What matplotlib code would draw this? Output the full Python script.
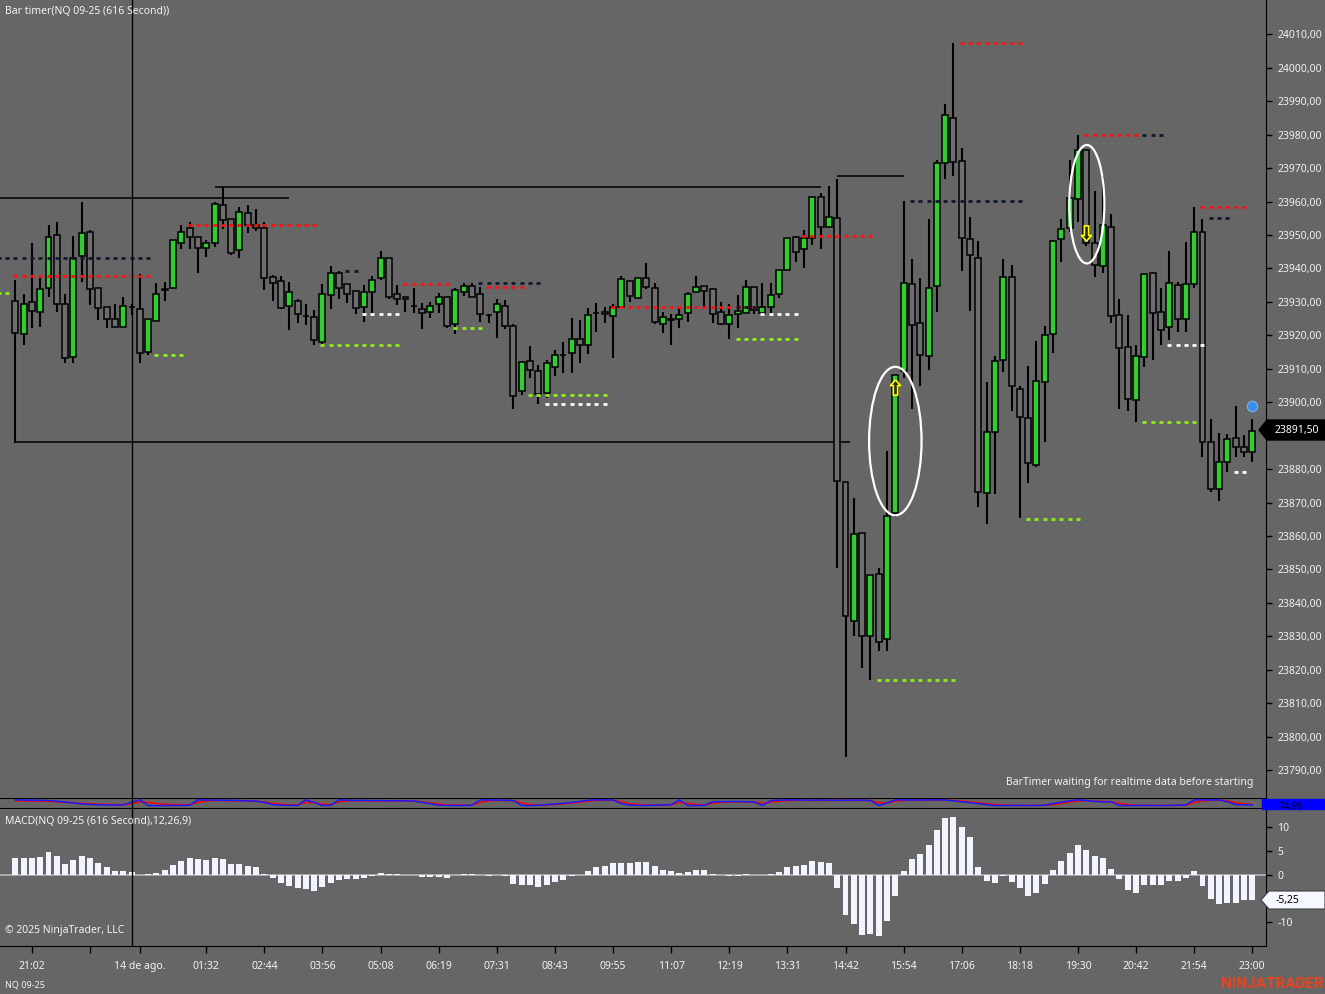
import matplotlib
matplotlib.use("Agg")
import matplotlib.pyplot as plt
import numpy as np
from matplotlib.patches import Ellipse, Polygon
from matplotlib.path import Path

plt.rcParams['font.family'] = ['Noto Sans', 'DejaVu Sans']

# ---- OHLC of the 616-second NQ bars ----
opens = [23930.25, 23920.5, 23930, 23927, 23934.25, 23950, 23929.5, 23913.5, 23943.75, 23950.75,
         23934.25, 23928.5, 23924.75, 23922.5, 23928.5, 23928, 23915, 23924.25, 23933.5, 23934.25,
         23947.75, 23952, 23949.5, 23946, 23947.5, 23959, 23954.75, 23945.5, 23956.5, 23953,
         23952, 23937.5, 23936.25, 23928.75, 23930.25, 23925.75, 23925.5, 23918, 23932, 23938.75,
         23935.25, 23933.25, 23928.5, 23933, 23937.25, 23943.25, 23932.25, 23931.5, 23928.75, 23928,
         23927, 23929.5, 23931.5, 23923.5, 23933, 23934.75, 23932.25, 23926, 23927, 23928.75,
         23922.75, 23903.25, 23912.25, 23909.25, 23902.75, 23910.5, 23914.25, 23914.75, 23919, 23917.25,
         23926.75, 23927, 23925.75, 23928.5, 23936.25, 23931.25, 23937, 23934.25, 23923.5, 23925,
         23924.75, 23926.75, 23933, 23934.75, 23933.75, 23927, 23923.5, 23926.25, 23926.75, 23934.5,
         23926.75, 23928.5, 23932.5, 23939.5, 23949.25, 23945.75, 23949.25, 23961.5, 23952.25, 23955,
         23876.25, 23834.75, 23861, 23830, 23848.75, 23829.25, 23866.75, 23909.25, 23935.25, 23923.75,
         23913.75, 23934.75, 23971.5, 23985, 23972, 23948.75, 23943.25, 23872.75, 23891, 23912.5,
         23937.5, 23904, 23895.25, 23881.25, 23906, 23920.5, 23948.75, 23952, 23960.75, 23975.5,
         23947.75, 23940.75, 23952.5, 23926, 23916.5, 23900.75, 23913.5, 23938.5, 23927, 23922.5,
         23935, 23924.75, 23935.25, 23951, 23888, 23874, 23882, 23889.25, 23886.5, 23885.25]
highs = [23936.5, 23932.5, 23947.5, 23937, 23953, 23954, 23932.5, 23949.75, 23959.75, 23951.5,
         23934.25, 23928.5, 23929.5, 23931.5, 23929.25, 23938.25, 23925, 23935.5, 23936, 23948.5,
         23953, 23953.75, 23949.5, 23948.5, 23959.75, 23964.25, 23954.75, 23958.5, 23959, 23957.75,
         23954, 23938, 23937.75, 23936, 23931, 23929.5, 23927.5, 23935.25, 23940.75, 23939.25,
         23935.25, 23933.25, 23935, 23937.75, 23945.25, 23943.25, 23935, 23931.5, 23934.25, 23929.75,
         23930, 23932.75, 23931.5, 23934.25, 23935.5, 23935.75, 23934.5, 23926.5, 23930.75, 23930.5,
         23923.25, 23912.25, 23916.75, 23911.25, 23912.75, 23915.5, 23918, 23925.25, 23924.5, 23928.25,
         23929.75, 23928.5, 23929.25, 23937.75, 23936.25, 23937.25, 23941.75, 23935.5, 23927, 23926.5,
         23928.5, 23933, 23937.75, 23934.75, 23933.75, 23930, 23929.5, 23932, 23936.5, 23934.5,
         23935.75, 23935.5, 23939.5, 23949, 23949.75, 23951.5, 23961.5, 23962.5, 23964.75, 23966.75,
         23876.25, 23871.5, 23861, 23848.25, 23850.5, 23885.5, 23908.25, 23960.25, 23942.75, 23937.25,
         23954.75, 23972.5, 23989.25, 24007.25, 23976, 23955.25, 23948.25, 23906, 23913.75, 23942.75,
         23941, 23905, 23910.75, 23918.25, 23922.75, 23948.5, 23954.75, 23972.5, 23979.75, 23975.5,
         23963.25, 23967.5, 23956.25, 23931, 23926, 23917, 23938.25, 23938.5, 23934.25, 23945.25,
         23936, 23948, 23958.25, 23954.75, 23895, 23890.75, 23890.5, 23899, 23890.25, 23895]
lows = [23887.75, 23917, 23922.25, 23922.5, 23931.5, 23927, 23911.75, 23911.75, 23936, 23929,
        23924.5, 23922.25, 23922.5, 23922.5, 23926, 23911.75, 23914.25, 23924.25, 23930.25, 23934.25,
        23945.75, 23945.75, 23938.5, 23943.5, 23946.5, 23951.75, 23944, 23943.25, 23950.5, 23951.25,
        23933.5, 23930.25, 23928, 23921.5, 23923.75, 23923, 23917.25, 23917.5, 23928, 23931,
        23929.75, 23926.5, 23924, 23926.5, 23936.5, 23931, 23929, 23927, 23926.75, 23922,
        23925.25, 23926.75, 23922.25, 23920.5, 23931.75, 23931.5, 23924, 23923.75, 23919.25, 23921.75,
        23898, 23902.25, 23907.25, 23899.5, 23901.25, 23907.75, 23908.75, 23908.75, 23911.75, 23914.5,
        23921, 23923.75, 23913.25, 23928.25, 23930, 23931, 23934, 23923.5, 23920.75, 23917.25,
        23922.25, 23924, 23933, 23927.75, 23923.75, 23923, 23919, 23922.25, 23926.75, 23926.5,
        23925.75, 23926.5, 23931.25, 23939.5, 23942, 23940.25, 23947, 23945.75, 23952.25, 23850.5,
        23794, 23830.25, 23820.5, 23817, 23825.75, 23825.5, 23865.75, 23907.25, 23898, 23905,
        23909.5, 23927, 23966.75, 23967.75, 23939.25, 23927.25, 23868.75, 23863.5, 23872.5, 23909,
        23897.25, 23865.25, 23876, 23880.75, 23888.25, 23914.75, 23942, 23950.75, 23954, 23946.75,
        23937.5, 23938.75, 23923.75, 23898, 23897.25, 23894, 23910.5, 23912.5, 23917.25, 23918.75,
        23921, 23921, 23934.25, 23883.75, 23873.25, 23870.5, 23879.25, 23883.5, 23883.75, 23882.25]
closes = [23920.75, 23929.5, 23927.25, 23934, 23949.25, 23929.5, 23913.25, 23943.25, 23950.5, 23933.75,
          23928.25, 23925, 23922.5, 23928.75, 23928.5, 23914.75, 23925, 23932.5, 23934, 23948.5,
          23951, 23949.5, 23946, 23947.5, 23959.25, 23954.5, 23944.75, 23957, 23953, 23952,
          23937, 23935.5, 23928.25, 23933, 23926.5, 23925.75, 23918.5, 23932.25, 23938.75, 23934.25,
          23932.5, 23928.25, 23933, 23936.5, 23943.25, 23931.5, 23931, 23930.75, 23928.75, 23926.75,
          23928.75, 23931.5, 23922.75, 23933.5, 23934.75, 23931.5, 23926.25, 23926, 23929.5, 23922.75,
          23901.75, 23912, 23909.5, 23902.5, 23911.75, 23914.25, 23914.25, 23919, 23917, 23926,
          23926.75, 23926.5, 23928.5, 23936.75, 23931.75, 23937, 23934.5, 23924, 23925.5, 23924.5,
          23926, 23932.25, 23934.5, 23933.25, 23926.25, 23923.5, 23926, 23927.25, 23934.5, 23927.5,
          23928.5, 23932, 23939.5, 23949, 23945, 23949, 23961.5, 23952.25, 23955.25, 23876.5,
          23836, 23860.5, 23830.25, 23848.25, 23828.25, 23866, 23908.25, 23935.5, 23923, 23914,
          23934.25, 23971.5, 23985.75, 23971.75, 23949, 23944, 23873.25, 23891.25, 23912.25, 23937.5,
          23905, 23895.5, 23881.75, 23906.25, 23920.25, 23948.25, 23951.75, 23961, 23975.5, 23947.5,
          23941, 23953, 23925.75, 23916.25, 23901, 23913.75, 23938.25, 23926.75, 23921.5, 23935.5,
          23924.75, 23935.25, 23950.75, 23888, 23874, 23882, 23889, 23886.5, 23885.25, 23891.5]

# ---- MACD(12,26,9) histogram ----
macd_hist = [3.57, 3.57, 3.57, 3.78, 4.83, 4.0, 2.3, 3.15, 4.0, 3.43, 2.5, 1.68, 0.84, 0.84, 0.56,
             0.0,
             0.1, 0.42, 1.05, 2.1, 2.94, 3.43, 3.29, 3.15, 3.43, 3.29, 2.17, 2.24, 1.82, 1.54, 0.21,
             -0.77, -1.82, -2.31, -2.73, -3.08, -3.5, -2.59, -1.68, -1.19, -0.98, -0.98, -0.77, -0.35,
             0.28, 0.21, 0.05, 0.0, 0.0, -0.49, -0.49, -0.42, -0.7, 0.0, 0.21, 0.21, 0.0, -0.2, 0.0, -0.2,
             -2.03, -2.24, -2.24, -2.66, -2.24, -1.61, -1.05, -0.35, -0.14, 0.84, 1.54, 1.82, 2.45, 2.52,
             2.52, 2.73, 2.61,
             1.77, 1.06, 0.71, 0.28, 0.49, 0.92, 0.92, 0.21, 0.0, -0.21, -0.21, 0.07, 0.0, 0.0, 0.14,
             0.49, 1.55, 1.77, 1.98, 2.83, 2.76, 2.4,
             -2.83, -8.48, -10.32, -12.72, -12.37, -12.79, -9.82, -4.52, 0.71, 3.25, 4.31, 6.22, 9.4,
             11.87, 12.16, 10.04, 7.84, 1.63, -1.41, -1.77, -0.21, -1.55, -2.83, -4.52, -3.75, -2.05,
             0.92, 2.83, 4.52, 6.22, 5.16, 3.89, 3.53, 1.13, -0.99, -3.25, -3.75, -2.26, -2.26, -2.26,
             -1.34, -1.34, -0.78, 0.71, -2.4, -5.16, -6.22, -6.0, -5.87, -5.37, -5.25]

# ---- thin oscillator strip (blue / red lines) ----
osc_blue = [100, 98, 95, 92, 90, 80, 65, 50, 35, 28, 22, 20, 18, 20, 60, 100, 10, 10, 10, 12, 10, 15,
            100, 98, 95, 95, 92, 90, 85, 80, 60, 25, 15, 12, 12, 100, 60, 10, 15,
            100, 95, 90, 92, 88, 90, 85, 88, 85, 80, 60, 40, 15, 12, 10, 10, 15,
            100, 98, 95, 95, 90, 10, 10, 15, 25, 35, 45, 60, 75, 95, 100, 100, 98, 40, 15, 12, 10,
            15, 20, 25, 100, 10, 10, 12, 70, 72, 75, 75, 70, 65, 10,
            90, 95, 100, 98, 95, 95, 98, 95, 92, 95, 95, 95, 90, 10, 50,
            100, 100, 98, 98, 100, 100, 98, 85, 70, 55, 40, 25, 10, 10, 10, 12, 10, 12, 15,
            40, 65, 85, 100, 90, 75, 70, 70, 10, 10, 10, 12, 10, 10, 12, 15, 20,
            100, 100, 98, 100, 70, 25, 22, 20]
osc_red = [85, 85, 83, 80, 78, 70, 62, 55, 45, 38, 32, 28, 25, 25, 35, 70, 60, 45, 30, 25, 22, 22,
           60, 85, 90, 90, 88, 85, 82, 78, 65, 45, 30, 22, 20, 60, 55, 35, 25,
           70, 85, 88, 88, 86, 86, 85, 85, 83, 80, 68, 52, 35, 22, 18, 15, 15,
           60, 85, 90, 90, 88, 50, 25, 18, 20, 28, 38, 50, 62, 80, 92, 95, 95, 70, 40, 25, 18,
           15, 18, 22, 60, 45, 25, 18, 45, 60, 68, 70, 70, 68, 45,
           65, 80, 90, 92, 92, 92, 93, 92, 90, 91, 92, 92, 90, 55, 50,
           80, 92, 95, 96, 97, 98, 97, 90, 80, 68, 55, 40, 25, 18, 14, 12, 12, 12, 13,
           25, 45, 65, 85, 90, 80, 75, 72, 45, 25, 15, 12, 12, 11, 11, 13, 15,
           60, 85, 92, 95, 85, 55, 38, 28]

price_ticks = list(range(23790, 24011, 10))
time_ticks = [2, 9, 15, 23, 30, 37, 44, 51, 58, 65, 72, 79, 86, 93, 100, 107, 114, 121, 128, 135, 142, 149]
time_labels = ['21:02', '', '14 de ago.', '01:32', '02:44', '03:56', '05:08', '06:19', '07:31', '08:43',
               '09:55', '11:07', '12:19', '13:31', '14:42', '15:54', '17:06', '18:18', '19:30',
               '20:42', '21:54', '23:00']
last_price = 23891.5

# solid drawn lines: (price, first bar, last bar)
h_lines = [(23961.0, -2, 33), (23964.25, 24, 97), (23967.5, 99, 107), (23888.0, 0, 100.6)]

# dotted swing levels: (kind, price, first bar, last bar)
swing_levels = [('red', 23937.75, 0, 16), ('dark', 23943.25, -2, 16), ('green', 23932.75, -2, -1),
                ('green', 23914.25, 17, 20), ('red', 23953.0, 21, 36), ('green', 23917.0, 37, 46),
                ('white', 23926.5, 42, 46), ('dark', 23939.25, 40, 41), ('red', 23935.25, 47, 52),
                ('green', 23922.25, 53, 56), ('dark', 23935.75, 56, 63), ('red', 23934.5, 57, 61),
                ('green', 23902.25, 62, 71), ('white', 23899.5, 64, 71), ('red', 23928.5, 72, 89),
                ('dark', 23928.5, 87, 89), ('white', 23926.5, 90, 94), ('green', 23919.0, 87, 94),
                ('red', 23949.75, 95, 103), ('dark', 23960.25, 108, 121), ('green', 23817.0, 104, 113),
                ('red', 24007.5, 114, 121), ('green', 23865.0, 122, 128), ('red', 23980.0, 129, 135),
                ('dark', 23980.0, 136, 138), ('green', 23894.0, 136, 142), ('white', 23917.0, 139, 143),
                ('red', 23958.5, 143, 148), ('dark', 23955.0, 144, 146), ('white', 23879.25, 147, 148)]
level_colors = {'red': '#ff1010', 'dark': '#101a28', 'green': '#8cf018', 'white': '#ffffff'}

BG = '#666666'
GREEN = '#32cd32'
DOWN = '#6e6e6e'
TXT = '#f2f2f2'
W, H = 1325, 994

fig = plt.figure(figsize=(W / 100, H / 100), dpi=100)
fig.patch.set_facecolor(BG)


def pax(x0, y0, x1, y1):
    a = fig.add_axes([x0 / W, 1 - y1 / H, (x1 - x0) / W, (y1 - y0) / H])
    a.set_facecolor(BG)
    for s in a.spines.values():
        s.set_visible(False)
    a.spines['right'].set_visible(True)
    a.spines['right'].set_color('black')
    a.yaxis.tick_right()
    a.tick_params(axis='y', colors='black', labelcolor=TXT, length=4, width=1, pad=4, labelsize=7.5)
    a.tick_params(axis='x', bottom=False, labelbottom=False)
    a.set_xlim(-1.843, 150.65)
    return a


def fig_poly(pts, **kw):
    p = Polygon([(x / W, 1 - y / H) for x, y in pts], closed=True, transform=fig.transFigure, **kw)
    fig.add_artist(p)


ax = pax(0, 0, 1266, 798)
ax_osc = pax(0, 798, 1266, 809)
ax_m = pax(0, 809, 1266, 945.5)

# ---- price panel ----
idx = np.arange(len(opens))
o = np.array(opens)
c = np.array(closes)
ax.set_ylim(23781.69, 24020.25)
ax.vlines(idx, lows, highs, color='black', lw=1.5, zorder=2)
ax.bar(idx, np.abs(c - o), bottom=np.minimum(o, c), width=0.72,
       color=np.where(c > o, GREEN, DOWN), edgecolor='black', lw=1.1, zorder=3)

for price, a, b in h_lines:
    ax.hlines(price, a, b, color='black', lw=1.1, zorder=1)

for kind, price, a, b in swing_levels:
    xs = np.arange(a, b + 1)
    ax.plot(xs, np.full(len(xs), price), ls='none', marker='_', ms=2.6, mew=2,
            color=level_colors[kind], zorder=4)

ax.add_patch(Ellipse((106.0, 23888.4), 6.32, 44.4, fill=False, ec='white', lw=1.6, zorder=5))
ax.add_patch(Ellipse((129.07, 23959.2), 4.22, 35.4, fill=False, ec='white', lw=1.6, zorder=5))

up = Path([(0, 1), (0.65, 0.25), (0.28, 0.25), (0.28, -1), (-0.28, -1), (-0.28, 0.25), (-0.65, 0.25), (0, 1)])
down = Path([(x, -y) for x, y in up.vertices])
ax.plot([106], [23904.7], marker=up, ms=11, mfc='#2a2a00', mec='#ffff00', mew=1.2, zorder=6)
ax.plot([129], [23950.5], marker=down, ms=11, mfc='#2a2a00', mec='#ffff00', mew=1.2, zorder=6)
ax.plot([149], [23898.8], 'o', ms=7.5, mfc='#3a8ee8', mec='#7ab4f2', mew=0.8, zorder=6)

ax.set_yticks(price_ticks)
# the level hidden under the last-price box carries no label
ax.set_yticklabels(['' if abs(v - last_price) < 5 else f"{v:.2f}".replace('.', ',') for v in price_ticks])
ax.axvline(14, color='black', lw=1, zorder=7)

# ---- oscillator strip ----
ax_osc.set_ylim(-45, 130)
ax_osc.plot(idx, osc_red, color='#ff0000', lw=1.1)
ax_osc.plot(idx, osc_blue, color='#1a1aff', lw=1.1)
ax_osc.set_yticks([])
ax_osc.axhline(130, color='black', lw=1.5)
ax_osc.axhline(-45, color='black', lw=1.5)
ax_osc.axvline(14, color='black', lw=1)

# ---- MACD panel ----
ax_m.set_ylim(-14.87, 13.8)
ax_m.axhline(0, color='#b8b8b8', lw=1.2, zorder=1)
ax_m.bar(idx, macd_hist, width=0.72, color='#f2f5ff', lw=0, zorder=2)
ax_m.set_yticks([10, 5, 0, -10])
ax_m.set_yticklabels(['10', '5', '0', '-10'])
ax_m.axvline(14, color='black', lw=1, zorder=3)
ax_m.spines['bottom'].set_visible(True)
ax_m.spines['bottom'].set_color('black')
ax_m.set_xticks(time_ticks)
ax_m.set_xticklabels(time_labels)
ax_m.tick_params(axis='x', bottom=True, labelbottom=True, colors='black', labelcolor=TXT,
                 length=5, width=1, pad=6, labelsize=7.5)

# ---- texts ----
fig.text(5 / W, 1 - 12 / H, 'Bar timer(NQ 09-25 (616 Second))', color=TXT, fontsize=7.5, va='center')
fig.text(1253 / W, 1 - 783 / H, 'BarTimer waiting for realtime data before starting', color=TXT,
         fontsize=7.5, va='center', ha='right')
fig.text(5 / W, 1 - 822 / H, 'MACD(NQ 09-25 (616 Second),12,26,9)', color=TXT, fontsize=7.5, va='center')
fig.text(5 / W, 1 - 930 / H, '\u00a9 2025 NinjaTrader, LLC', color=TXT, fontsize=7.5, va='center')
fig.text(5 / W, 1 - 985 / H, 'NQ 09-25', color=TXT, fontsize=6.5, va='center')
fig.text(1324 / W, 1 - 984 / H, 'NINJATRADER', color='#e5451f', fontsize=11, fontweight='bold',
         va='center', ha='right', family=['Roboto', 'DejaVu Sans'])

# right-side value boxes
fig_poly([(1259, 430), (1267, 420), (1325, 420), (1325, 440), (1267, 440)], fc='black', ec='black')
fig.text(1275 / W, 1 - 430 / H, f"{last_price:.2f}".replace('.', ','), color='white', fontsize=7.5, va='center')
fig_poly([(1261, 900), (1269, 891), (1325, 891), (1325, 909), (1269, 909)], fc='#f6f8ff', ec='#404040', lw=0.8)
fig.text(1276 / W, 1 - 900 / H, '-5,25', color='black', fontsize=7.5, va='center')
fig_poly([(1262, 799), (1325, 799), (1325, 809), (1262, 809)], fc='#0000ff', ec='#0000ff')
fig.text(1280 / W, 1 - 806 / H, '74,99', color='black', fontsize=6.5, va='center')

fig.savefig('out.png', dpi=100, facecolor=BG)
